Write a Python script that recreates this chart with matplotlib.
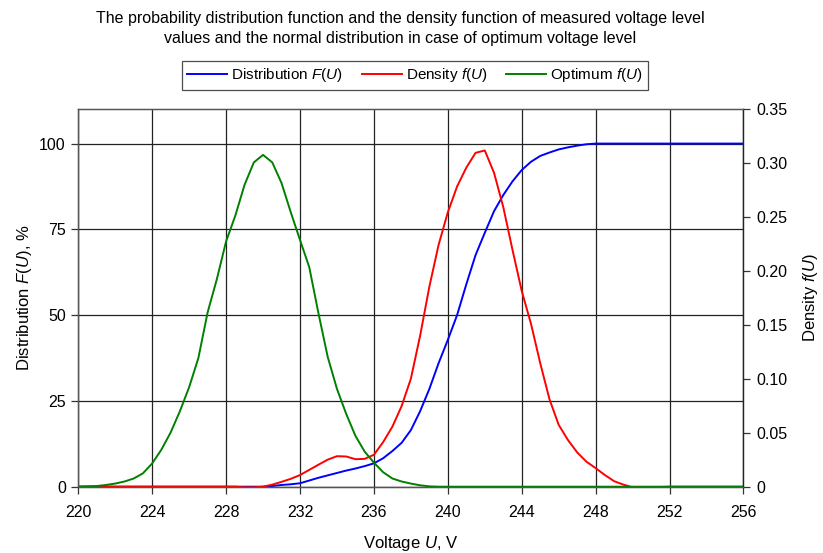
import numpy as np
import matplotlib
matplotlib.use("Agg")
import matplotlib.pyplot as plt
from matplotlib.ticker import FuncFormatter

plt.rcParams['font.family'] = ['Liberation Sans', 'DejaVu Sans']
plt.rcParams['mathtext.fontset'] = 'custom'
plt.rcParams['mathtext.it'] = 'Liberation Sans:italic'
plt.rcParams['mathtext.rm'] = 'Liberation Sans'

# Voltage grid (V)
voltage = np.arange(220, 256.01, 0.5)

# Distribution F(U), %
distribution = [0]*20 + [
    0, 0.2, 0.5, 0.7, 1.0, 1.8, 2.6, 3.3, 4.0, 4.7, 5.3, 6.0, 6.8, 8.3,
    10.4, 12.8, 16.5, 22.0, 28.5, 36.0, 42.8, 50.0, 59.0, 67.5, 74.0, 80.3,
    85.0, 89.0, 92.3, 94.7, 96.4, 97.4, 98.3, 98.9, 99.4, 99.8, 100] + [100]*16

# Density f(U)
density = [0]*18 + [
    -0.0006, -0.0006, 0, 0.0019, 0.0045, 0.0073, 0.0108, 0.0156, 0.0204,
    0.0251, 0.0283, 0.0280, 0.0255, 0.0258, 0.0296, 0.0414, 0.0557, 0.0748,
    0.1002, 0.1400, 0.1855, 0.2243, 0.2545, 0.2784, 0.2959, 0.3096, 0.3118,
    0.2911, 0.2593, 0.2195, 0.1814, 0.1511, 0.1145, 0.0811, 0.0573, 0.0433,
    0.0318, 0.0232, 0.0172, 0.0108, 0.0051, 0.0019, -0.0006, -0.0016,
    -0.0013, -0.0003] + [0]*9

# Optimum f(U)
optimum = [
    0, 0.0003, 0.0006, 0.0016, 0.0029, 0.0048, 0.0076, 0.0124, 0.0216,
    0.0344, 0.0503, 0.0700, 0.0923, 0.1193, 0.1616, 0.1925, 0.2275, 0.2514,
    0.2800, 0.3007, 0.3077, 0.3007, 0.2816, 0.2545, 0.2288, 0.2036, 0.1607,
    0.1203, 0.0907, 0.0675, 0.0471, 0.0325, 0.0223, 0.0134, 0.0076, 0.0048,
    0.0029, 0.0013, 0.0003] + [0]*34

x_ticks = list(range(220, 257, 4))
left_ticks = [0, 25, 50, 75, 100]
right_ticks = [0, 0.05, 0.10, 0.15, 0.20, 0.25, 0.30, 0.35]

fig = plt.figure(figsize=(8.23, 5.53), dpi=100)
ax = fig.add_axes([0.0951, 0.1199, 0.8083, 0.6825])
ax2 = ax.twinx()

l1, = ax.plot(voltage, distribution, color='#0000FF', lw=1.4,
              label=r'Distribution $\mathit{F}$($\mathit{U}$)')
l2, = ax2.plot(voltage, density, color='#FF0000', lw=1.4,
               label=r'Density $\mathit{f}$($\mathit{U}$)')
l3, = ax2.plot(voltage, optimum, color='#008000', lw=1.4,
               label=r'Optimum $\mathit{f}$($\mathit{U}$)')

ax.set_xlim(220, 256)
ax.set_ylim(0, 110)
ax2.set_ylim(0, 0.35)
ax.set_xticks(x_ticks)
ax.set_yticks(left_ticks)
ax2.set_yticks(right_ticks)
ax2.yaxis.set_major_formatter(FuncFormatter(lambda v, p: '0' if abs(v) < 1e-9 else f'{v:.2f}'))

ax.grid(True, color='#222222', lw=0.9)
ax.set_axisbelow(True)

for a in (ax, ax2):
    a.tick_params(direction='out', length=5, width=0.9, color='#333333',
                  labelsize=11.5, pad=4)
    for s in a.spines.values():
        s.set_color('#555555')
        s.set_linewidth(0.9)
ax.tick_params(axis='x', pad=8)
ax.spines['left'].set_color('#222222')
ax2.spines['right'].set_color('#222222')
ax.spines['bottom'].set_color('#222222')

ax.set_xlabel(r'Voltage $\mathit{U}$, V', fontsize=12, labelpad=10)
ax.set_ylabel(r'Distribution $\mathit{F}$($\mathit{U}$), %', fontsize=12, labelpad=4)
ax2.set_ylabel(r'Density $\mathit{f}$($\mathit{U}$)', fontsize=12, labelpad=10)

fig.text(400/823, 1 - 18/553,
         'The probability distribution function and the density function of measured voltage level',
         ha='center', va='center', fontsize=11.5)
fig.text(400/823, 1 - 39/553,
         'values and the normal distribution in case of optimum voltage level',
         ha='center', va='center', fontsize=11.5)

leg = fig.legend(handles=[l1, l2, l3], loc='center', bbox_to_anchor=(415/823, 1 - 75.5/553),
                 ncol=3, fontsize=11, frameon=True, fancybox=False, handlelength=2.6,
                 handletextpad=0.3, columnspacing=1.2, borderpad=0.35)
leg.get_frame().set_edgecolor('#222222')
leg.get_frame().set_linewidth(0.9)

fig.savefig('out.png', dpi=100)
